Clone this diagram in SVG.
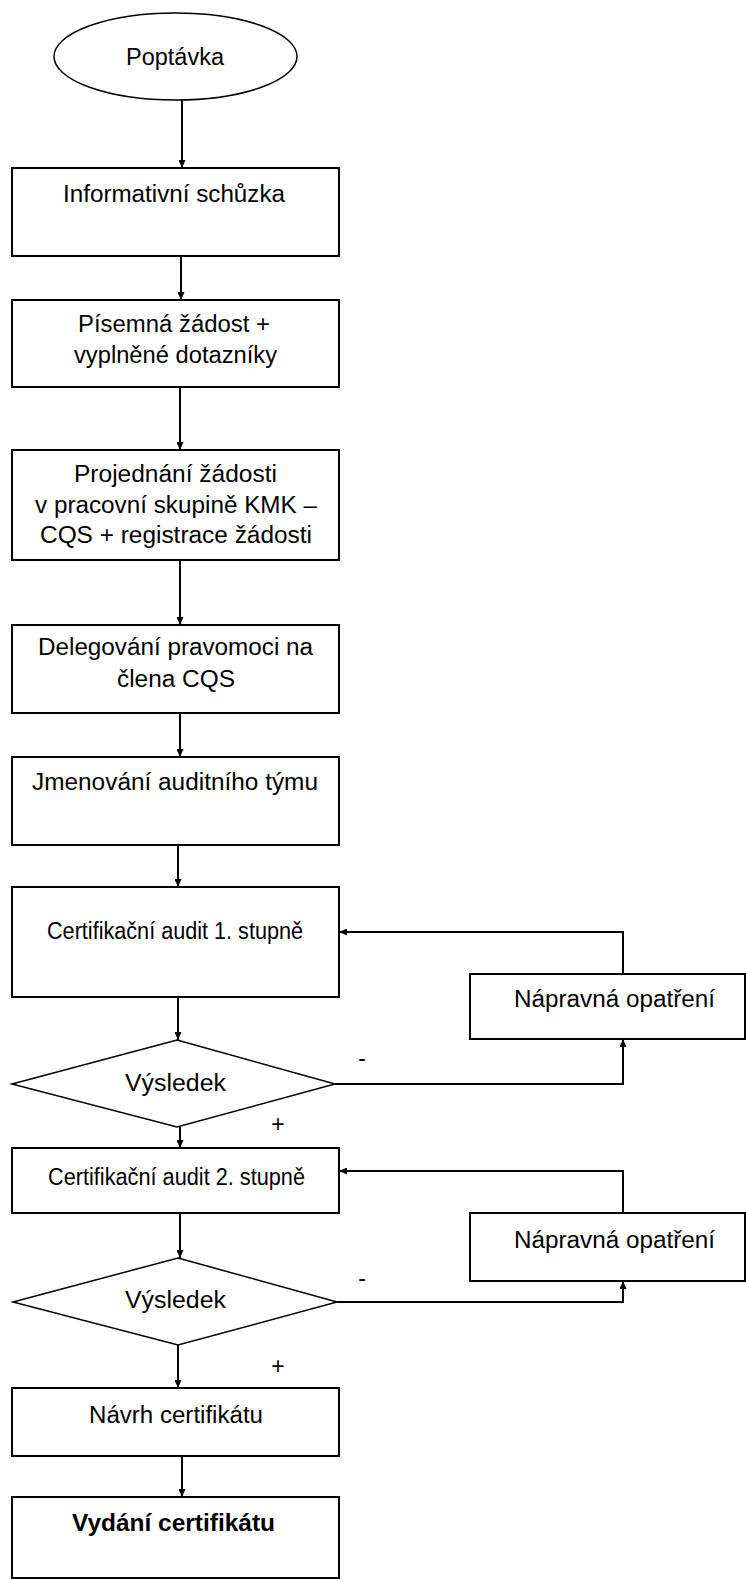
<svg xmlns="http://www.w3.org/2000/svg" width="746" height="1580" viewBox="0 0 746 1580">
<style>
.box{fill:#fff;stroke:#000;stroke-width:2}
.thin{fill:#fff;stroke:#000;stroke-width:1.5}
.t{font-family:"Liberation Sans",Arial,sans-serif;font-size:23px;fill:#000}
.b{font-weight:bold}
.c{fill:none;stroke:#000;stroke-width:2}
</style>
<defs>
<marker id="ah" markerUnits="userSpaceOnUse" markerWidth="8" markerHeight="7" refX="8" refY="3.5" orient="auto">
<path d="M0,0 L8,3.5 L0,7 z" fill="#000"/>
</marker>
</defs>
<rect width="746" height="1580" fill="#fff"/>
<g id="connectors">
<path class="c" d="M182,100 V168" marker-end="url(#ah)"/>
<path class="c" d="M181,256 V300" marker-end="url(#ah)"/>
<path class="c" d="M180,387 V450" marker-end="url(#ah)"/>
<path class="c" d="M180,560 V625" marker-end="url(#ah)"/>
<path class="c" d="M180,713 V757" marker-end="url(#ah)"/>
<path class="c" d="M178,845 V887" marker-end="url(#ah)"/>
<path class="c" d="M178,997 V1040" marker-end="url(#ah)"/>
<path class="c" d="M180,1127 V1148" marker-end="url(#ah)"/>
<path class="c" d="M180,1213 V1258" marker-end="url(#ah)"/>
<path class="c" d="M178,1345 V1388" marker-end="url(#ah)"/>
<path class="c" d="M182,1456 V1497" marker-end="url(#ah)"/>
<path class="c" d="M335,1084 H623 V1039" marker-end="url(#ah)"/>
<path class="c" d="M623,974 V932 H339" marker-end="url(#ah)"/>
<path class="c" d="M337,1302 H623 V1281" marker-end="url(#ah)"/>
<path class="c" d="M623,1213 V1171 H339" marker-end="url(#ah)"/>
<text class="t" x="362" y="1066" text-anchor="middle" font-size="18">-</text>
<text class="t" x="278" y="1132" text-anchor="middle" font-size="18">+</text>
<text class="t" x="362" y="1286" text-anchor="middle" font-size="18">-</text>
<text class="t" x="278" y="1374" text-anchor="middle" font-size="18">+</text>
</g>
<g id="n-poptavka">
<ellipse class="thin" cx="175.5" cy="56.5" rx="121.5" ry="43.5"/>
<text class="t" x="126" y="65" textLength="98" lengthAdjust="spacingAndGlyphs">Poptávka</text>
</g>
<g id="n-informativni">
<rect class="box" x="12" y="168" width="327" height="88"/>
<text class="t" x="63" y="202" textLength="222" lengthAdjust="spacingAndGlyphs">Informativní schůzka</text>
</g>
<g id="n-pisemna">
<rect class="box" x="12" y="300" width="327" height="87"/>
<text class="t" x="78" y="332" textLength="192" lengthAdjust="spacingAndGlyphs">Písemná žádost +</text>
<text class="t" x="74" y="363" textLength="203" lengthAdjust="spacingAndGlyphs">vyplněné dotazníky</text>
</g>
<g id="n-projednani">
<rect class="box" x="12" y="450" width="327" height="110"/>
<text class="t" x="74" y="482" textLength="203" lengthAdjust="spacingAndGlyphs">Projednání žádosti</text>
<text class="t" x="35" y="513" textLength="282" lengthAdjust="spacingAndGlyphs">v pracovní skupině KMK –</text>
<text class="t" x="40" y="543" textLength="272" lengthAdjust="spacingAndGlyphs">CQS + registrace žádosti</text>
</g>
<g id="n-delegovani">
<rect class="box" x="12" y="625" width="327" height="88"/>
<text class="t" x="38" y="655" textLength="275" lengthAdjust="spacingAndGlyphs">Delegování pravomoci na</text>
<text class="t" x="117" y="687" textLength="118" lengthAdjust="spacingAndGlyphs">člena CQS</text>
</g>
<g id="n-jmenovani">
<rect class="box" x="12" y="757" width="327" height="88"/>
<text class="t" x="32" y="790" textLength="286" lengthAdjust="spacingAndGlyphs">Jmenování auditního týmu</text>
</g>
<g id="n-audit1">
<rect class="box" x="12" y="887" width="327" height="110"/>
<text class="t" x="47" y="939" textLength="256" lengthAdjust="spacingAndGlyphs">Certifikační audit 1. stupně</text>
</g>
<g id="n-vysledek1">
<polygon class="thin" points="177,1040 335,1084 177,1127 12,1084"/>
<text class="t" x="125" y="1091" textLength="101" lengthAdjust="spacingAndGlyphs">Výsledek</text>
</g>
<g id="n-napravna1">
<rect class="box" x="470" y="974" width="275" height="65"/>
<text class="t" x="514" y="1007" textLength="201" lengthAdjust="spacingAndGlyphs">Nápravná opatření</text>
</g>
<g id="n-audit2">
<rect class="box" x="12" y="1148" width="327" height="65"/>
<text class="t" x="48" y="1185" textLength="257" lengthAdjust="spacingAndGlyphs">Certifikační audit 2. stupně</text>
</g>
<g id="n-vysledek2">
<polygon class="thin" points="178,1258 337,1302 178,1345 13,1302"/>
<text class="t" x="125" y="1308" textLength="101" lengthAdjust="spacingAndGlyphs">Výsledek</text>
</g>
<g id="n-napravna2">
<rect class="box" x="470" y="1213" width="275" height="68"/>
<text class="t" x="514" y="1248" textLength="201" lengthAdjust="spacingAndGlyphs">Nápravná opatření</text>
</g>
<g id="n-navrh">
<rect class="box" x="12" y="1388" width="327" height="68"/>
<text class="t" x="89" y="1423" textLength="174" lengthAdjust="spacingAndGlyphs">Návrh certifikátu</text>
</g>
<g id="n-vydani">
<rect class="box" x="12" y="1497" width="327" height="81"/>
<text class="t b" x="72" y="1531" textLength="203" lengthAdjust="spacingAndGlyphs">Vydání certifikátu</text>
</g>
</svg>
